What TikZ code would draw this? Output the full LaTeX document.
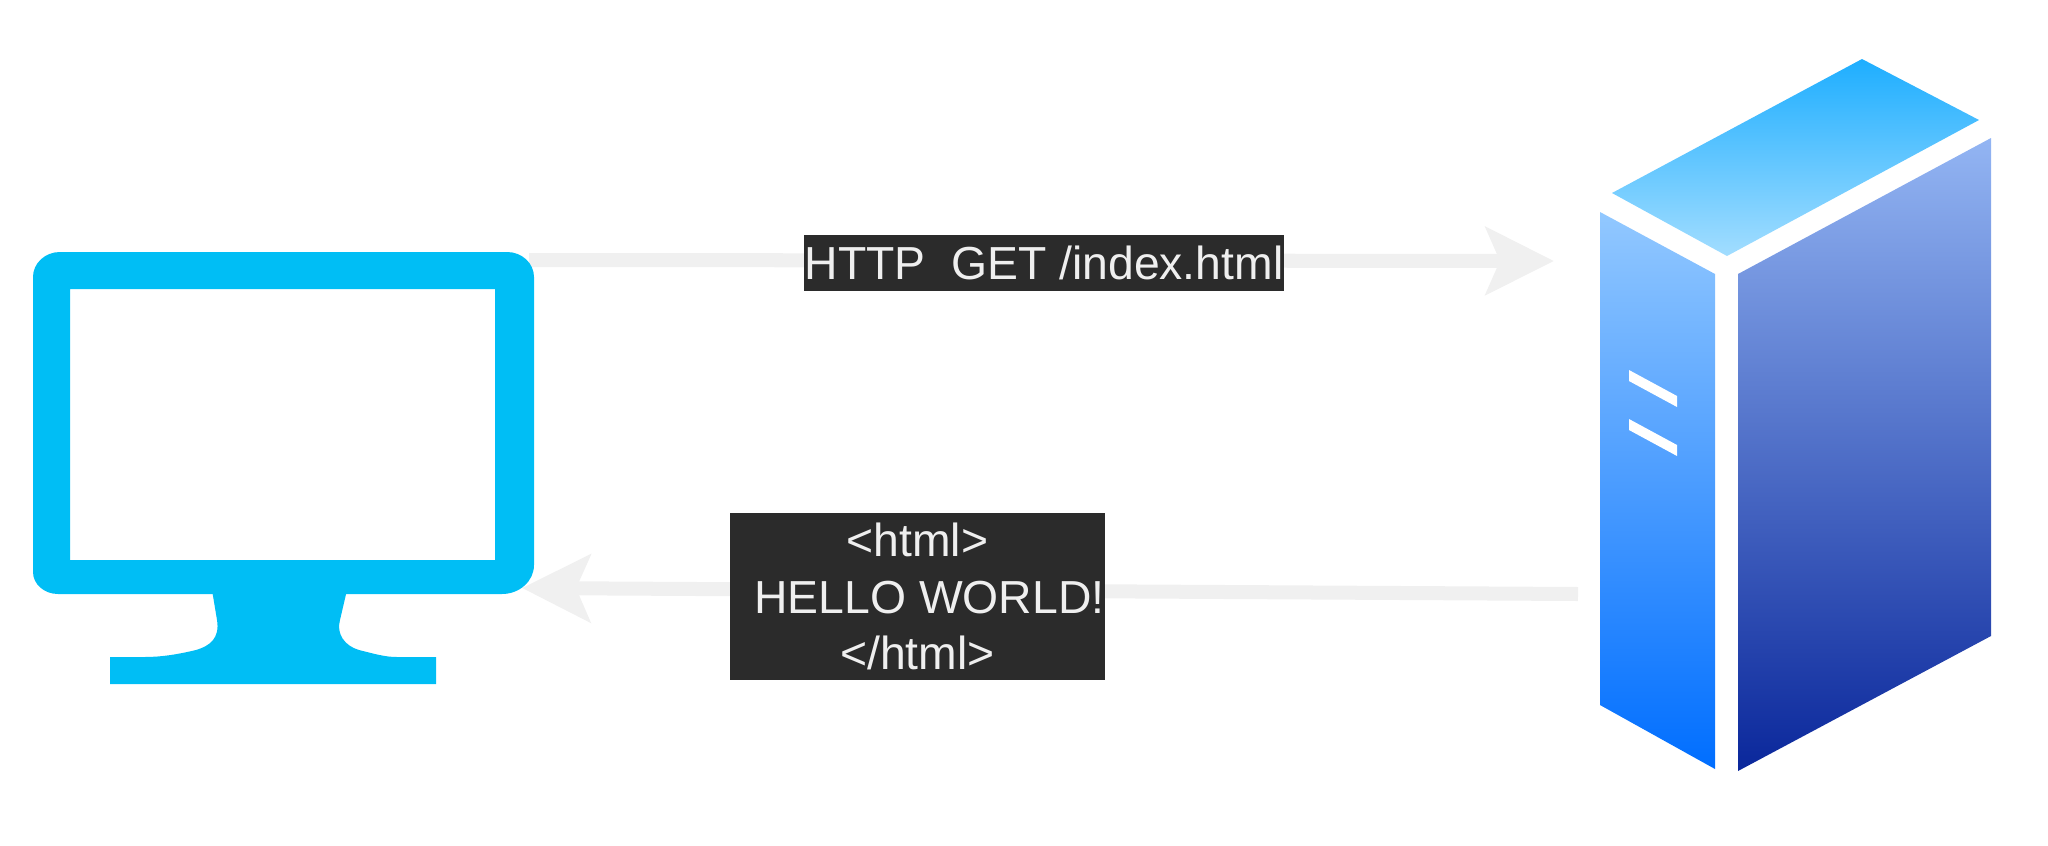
\documentclass[tikz,border=0pt]{standalone}
\usepackage{fontspec}
\setmainfont{Liberation Sans}
\usetikzlibrary{arrows.meta}
\definecolor{pcblue}{HTML}{00BEF5}
\definecolor{flowgray}{HTML}{F0F0F0}
\definecolor{boxdark}{HTML}{2B2B2B}
\definecolor{labeltext}{HTML}{EFEFEF}
\begin{document}
\begin{tikzpicture}[x=0.01cm, y=-0.01cm,
        flow/.style={flowgray, line width=1.4mm, -{Stealth[length=6.8mm, width=6.7mm, inset=1.4mm]}},
        msg/.style={fill=boxdark, text=labeltext, inner sep=0pt, align=center, font=\fontsize{13.17}{16.1}\selectfont},
        topface/.style={top color=topA, bottom color=topB},
        sideface/.style={top color=sideA, bottom color=sideB},
        frontface/.style={top color=frontA, bottom color=frontB}]
        \definecolor{topA}{HTML}{1EAEFF}
        \definecolor{topB}{HTML}{A2DDFF}
        \definecolor{sideA}{HTML}{92C8FF}
        \definecolor{sideB}{HTML}{006EFF}
        \definecolor{frontA}{HTML}{93B5F3}
        \definecolor{frontB}{HTML}{0A279B}
        \useasboundingbox (0,0) rectangle (2048,845);
        \coordinate (pcOut) at (529,260);
        \coordinate (pcIn) at (522,588);
        \coordinate (srvIn) at (1554,261);
        \coordinate (srvOut) at (1578,594);
        \draw[flow] (pcOut) -- (srvIn);
        \draw[flow] (srvOut) -- (pcIn);
        \fill[pcblue, even odd rule] (60,252) -- (507,252) arc[start angle=-90, end angle=0, x radius=27, y radius=25]
            -- (534,565) arc[start angle=0, end angle=90, x radius=32, y radius=29] -- (58,594)
            arc[start angle=90, end angle=180, x radius=25, y radius=22] -- (33,277)
            arc[start angle=180, end angle=270, x radius=27, y radius=25] -- cycle
            (70,289) rectangle (495,560);
        \fill[pcblue] (212,590) -- (217,620) .. controls (220,638) and (210,646) .. (196,650)
            .. controls (175,655) and (160,657) .. (144,657) -- (110,657) -- (110,684) -- (436,684)
            -- (436,657) -- (397,657) .. controls (385,657) and (375,654) .. (359,650)
            .. controls (345,646) and (336,634) .. (340,620) -- (347,590) -- cycle;
        \shade[topface] (1862,59) -- (1979,120) -- (1727,256) -- (1612,193) -- cycle;
        \shade[sideface] (1600,212) -- (1715,274) -- (1715,769) -- (1600,705) -- cycle;
        \shade[frontface] (1738,274) -- (1991,138) -- (1991,636) -- (1738,771) -- cycle;
        \foreach \slot in {370,419}{
            \fill[white] (1629,\slot) -- (1677,\slot+26) -- (1677,\slot+37) -- (1629,\slot+11) -- cycle;
        }
        \node[msg, minimum width=4.8cm, minimum height=5.6mm] (getLabel) at (1044,263)
            {HTTP\ \ GET /index.html};
        \node[msg, minimum width=3.75cm, minimum height=16.7mm] (htmlLabel) at (917.5,596.5)
            {<html>\\ \hspace*{2.4mm}HELLO WORLD!\\ </html>};
        \end{tikzpicture}
\end{document}
